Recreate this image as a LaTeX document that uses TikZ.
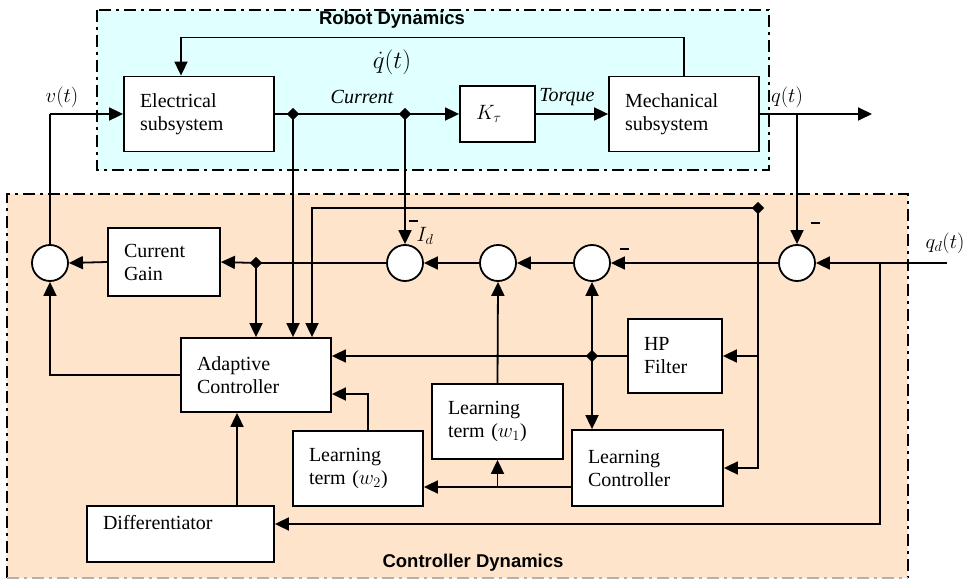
\documentclass[tikz,border=0pt]{standalone}
\usepackage{fontspec}
\setmainfont{Liberation Serif}
\newfontfamily\titlefont{Liberation Sans}
\usetikzlibrary{arrows.meta,shapes.geometric}
\definecolor{robotbg}{RGB}{224,255,255}
\definecolor{ctrlbg}{RGB}{255,228,204}
\begin{document}
\begin{tikzpicture}[x=1pt,y=-1pt,
 line width=1.8pt,
 txt/.style={font=\fontsize{20}{23}\selectfont, inner sep=1pt},
 blk/.style={draw, fill=white, line width=1.8pt, inner xsep=16pt, inner ysep=0pt, align=left, font=\fontsize{20}{23}\selectfont},
 sumc/.style={circle, draw, fill=white, minimum size=36pt, inner sep=0pt, line width=1.8pt},
 junc/.style={diamond, fill=black, inner sep=0pt, minimum size=13pt},
 arr/.style={-{Triangle[length=14pt,width=13pt]}},
 region/.style={line width=2pt, dash pattern=on 12pt off 5pt on 3pt off 5pt},
 title/.style={font=\titlefont\bfseries\fontsize{18.5}{21}\selectfont, inner sep=1pt},
 minus/.style={inner sep=0pt},
]
\useasboundingbox (0,0) rectangle (971,580);
% regions
\path[fill=robotbg] (97,10) rectangle (769,170);
\draw[region] (97,10) rectangle (769,170);
\path[fill=ctrlbg] (7,194) rectangle (908,578);
\draw[region] (7,578) -- (7,194) -- (908,194) -- (908,578);
\draw[region, gray!60, line width=1.2pt] (7,578) -- (908,578);

% blocks
\node[blk, text width=118pt, minimum width=150pt, minimum height=75pt] (el) at (199,114) {Electrical\\subsystem};
\node[blk, text width=43pt, minimum width=75pt, minimum height=56pt] (kt) at (497.5,114) {$K_\tau$};
\node[blk, text width=118pt, minimum width=150pt, minimum height=75pt] (mech) at (684,114) {Mechanical\\subsystem};
\node[blk, text width=80pt, minimum width=112pt, minimum height=68pt] (cg) at (164,262) {Current\\Gain};
\node[blk, text width=118pt, minimum width=150pt, minimum height=74pt] (ad) at (256,375) {Adaptive\\Controller};
\node[blk, text width=62pt, minimum width=94pt, minimum height=74pt] (hp) at (675,356) {HP\\Filter};
\node[blk, text width=99pt, minimum width=131pt, minimum height=75pt] (w1) at (497.5,421.5) {Learning\\term ($w_1$)};
\node[blk, text width=98pt, minimum width=130pt, minimum height=75pt] (w2) at (358,468.5) {Learning\\term ($w_2$)};
\node[blk, text width=119pt, minimum width=151pt, minimum height=76pt] (lc) at (647.5,468) {Learning\\Controller};
\node[blk, text width=155pt, minimum width=187pt, minimum height=56pt] (diff) at (180.5,534) {Differentiator\\\mbox{}};

% summing junctions
\node[sumc] (sA) at (50,263) {};
\node[sumc] (sI) at (405,263) {};
\node[sumc] (s3) at (498,263) {};
\node[sumc] (s4) at (592,263) {};
\node[sumc] (s5) at (797,263) {};

% coordinates
\coordinate (vj) at (50,114);
\coordinate (qj) at (797,114);
\coordinate (qout) at (872,114);
\coordinate (qdin) at (947,263);
\coordinate (qdj) at (880,263);

% connectors
\draw[arr] (mech.north) -- ++(0,-38) -| ([xshift=-18pt]el.north);
\draw[arr] (vj) -- (el.west);
\draw (sA.north) -- (vj);
\draw (el.east) -- (293,114) coordinate (d1c) -- (405,114) coordinate (d2c);
\draw[arr] (d2c) -- (kt.west);
\draw[arr] (kt.east) -- (mech.west);
\draw (mech.east) -- (qj);
\draw[arr] (qj) -- (qout);
\draw[arr] (qj) -- (s5.north);
\draw[arr] (d1c) -- (d1c |- ad.north);
\draw[arr] (d2c) -- (sI.north);
\coordinate (d3c) at (256,263);
\draw (sI.west) -- (d3c);
\draw[arr] (d3c) -- (cg.east);
\draw[arr] (d3c) -- (d3c |- ad.north);
\draw[arr] (cg.west) -- (sA.east);
\draw[arr] (ad.west) -| (sA.south);
\coordinate (d4c) at (758,208);
\draw[arr] (d4c) -| ([xshift=56pt]ad.north);
\draw[arr] (s5.west) -- (s4.east);
\draw[arr] (s4.west) -- (s3.east);
\draw[arr] (s3.west) -- (sI.east);
\draw[arr] (qdin) -- (s5.east);
\draw[arr] (qdj) |- ([yshift=10pt]diff.east);
\draw[arr] (d4c) |- (hp.east);
\draw[arr] (d4c) |- (lc.east);
\coordinate (d5c) at (592,356);
\draw (hp.west) -- (d5c);
\draw[arr] (d5c) -- (d5c -| ad.east);
\draw[arr] (d5c) -- (s4.south);
\draw[arr] (d5c) -- (d5c |- lc.north);
\coordinate (lco) at ([yshift=-19pt]lc.west);
\draw[arr] (lco) -- (lco -| w2.east);
\draw[arr] (lco -| w1.south) -- (w1.south);
\draw[arr] (w1.north) -- (s3.south);
\draw[arr] ([xshift=10pt]w2.north) |- ([yshift=-19pt]ad.east);
\draw[arr] ([xshift=-19pt]ad.south |- diff.north) -- ([xshift=-19pt]ad.south);

% junction diamonds
\node[junc] (d1) at (d1c) {};
\node[junc] (d2) at (d2c) {};
\node[junc] (d3) at (d3c) {};
\node[junc] (d4) at (d4c) {};
\node[junc] (d5) at (d5c) {};

% labels
\node[title] (rdt) at (392,20) {Robot Dynamics};
\node[title] (cdt) at (473,563) {Controller Dynamics};
\node[font=\fontsize{26}{30}\selectfont, inner sep=0pt] (qdot) at (392,62) {$\dot q(t)$};
\node[txt] (vt) at (62,97) {$v(t)$};
\node[txt] (cur) at (362,97) {\itshape Current};
\node[txt] (tor) at (567,97) {\itshape Torque};
\node[txt] (qt) at (787,97) {$q(t)$};
\node[txt] (qdt) at (945,243) {$q_d(t)$};
\node[minus] (m1) at (413,221) {\rule{9pt}{1.3pt}};
\node[txt] (Id) at (425,236) {$I_d$};
\node[minus] (m2) at (624,249) {\rule{9pt}{1.3pt}};
\node[minus] (m3) at (815,223) {\rule{9pt}{1.3pt}};
\end{tikzpicture}
\end{document}
